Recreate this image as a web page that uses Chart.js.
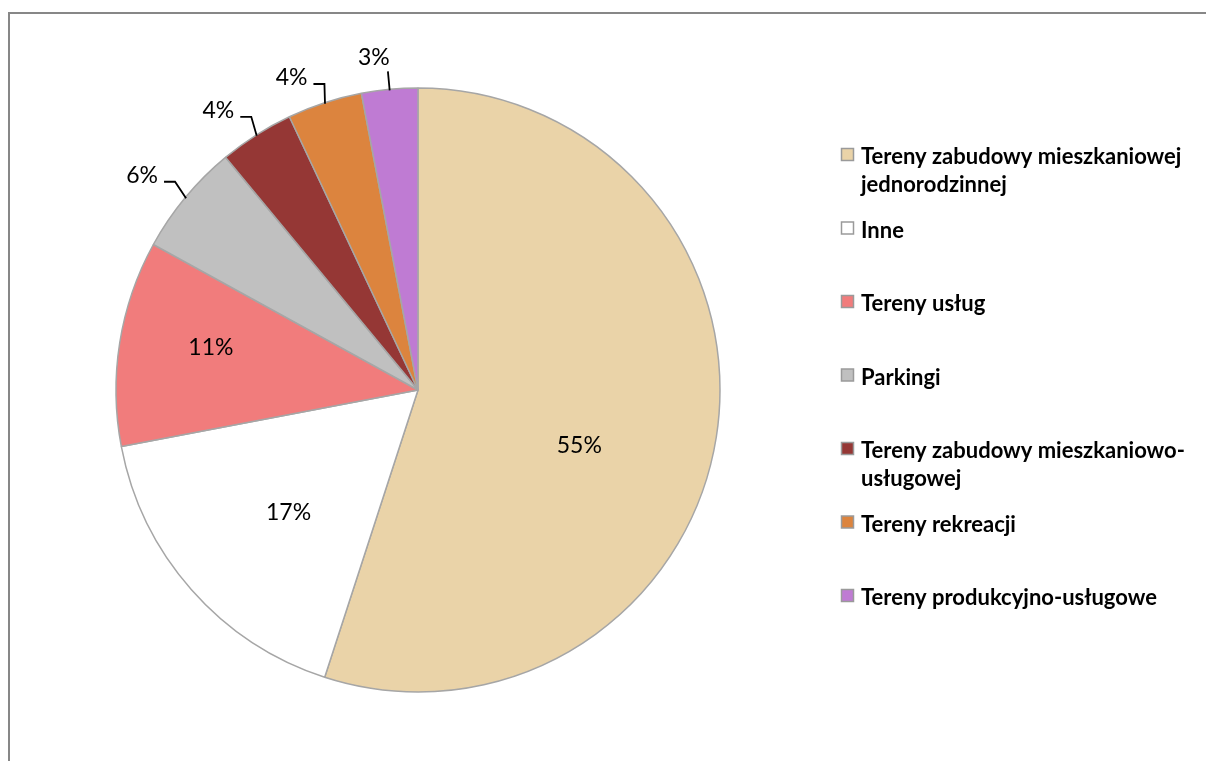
<!DOCTYPE html>
<html>
<head>
<meta charset="utf-8">
<script src="https://cdn.jsdelivr.net/npm/chart.js@4.4.1/dist/chart.umd.min.js"></script>
<style>
  body { margin: 0; background: #fff; }
  #wrap { position: relative; width: 1206px; height: 761px; }
</style>
</head>
<body>
<div id="wrap"><canvas id="pieChart" width="1206" height="761"></canvas></div>
<script>
const categories = [
  'Tereny zabudowy mieszkaniowej jednorodzinnej',
  'Inne',
  'Tereny usług',
  'Parkingi',
  'Tereny zabudowy mieszkaniowo-usługowej',
  'Tereny rekreacji',
  'Tereny produkcyjno-usługowe'
];
const shares = [55, 17, 11, 6, 4, 4, 3];
const colors = ['#ead3a8', '#ffffff', '#f17c7c', '#c0c0c0', '#953735', '#dc843e', '#bf7bd3'];

// slices labelled inside: [angle shift in degrees, fraction of radius]
// everything else gets a leader line outside the pie
const insideLabels = { 0: [10, 0.565], 1: [-2, 0.59], 2: [2.5, 0.70] };

const LABEL_FONT = '23px Lato';
const LEGEND_FONT = 'bold 22px Lato';
const DEG = Math.PI / 180;

function polar(arc, angle, r) {
  return { x: arc.x + Math.cos(angle) * r, y: arc.y + Math.sin(angle) * r };
}

// breaks a legend entry on spaces and after hyphens
function wrapText(c, text, maxWidth) {
  const parts = [];
  text.split(' ').forEach((word, w) => {
    word.split(/(?<=-)/).forEach((piece, p) => parts.push({ piece, space: w > 0 && p === 0 }));
  });
  const lines = [];
  let line = '';
  parts.forEach(({ piece, space }) => {
    const next = line + (line && space ? ' ' : '') + piece;
    if (line && c.measureText(next).width > maxWidth) {
      lines.push(line);
      line = piece;
    } else {
      line = next;
    }
  });
  lines.push(line);
  return lines;
}

const framePlugin = {
  id: 'frame',
  beforeDraw(chart) {
    const c = chart.ctx;
    c.save();
    c.strokeStyle = '#878787';
    c.lineWidth = 2;
    c.strokeRect(9, 13, 1300, 900);
    c.restore();
  }
};

const pctLabels = {
  id: 'pctLabels',
  afterDatasetsDraw(chart) {
    const c = chart.ctx;
    const arcs = chart.getDatasetMeta(0).data;
    c.save();
    c.font = LABEL_FONT;
    c.fillStyle = '#000';
    c.strokeStyle = '#000';
    c.lineWidth = 1.8;
    arcs.forEach((arc, i) => {
      const text = shares[i] + '%';
      const mid = (arc.startAngle + arc.endAngle) / 2;
      const r = arc.outerRadius;

      if (insideLabels[i]) {
        const [shift, f] = insideLabels[i];
        const p = polar(arc, mid + shift * DEG, r * f);
        c.textAlign = 'center';
        c.textBaseline = 'middle';
        c.fillText(text, p.x, p.y);
        return;
      }

      const edge = polar(arc, mid, r - 1);
      const nearTop = Math.abs(1.5 * Math.PI - mid) < 0.15;
      const elbow = polar(arc, mid + (nearTop ? 0 : DEG), r + 18);
      c.beginPath();
      c.moveTo(edge.x, edge.y);
      c.lineTo(elbow.x, elbow.y);
      c.textBaseline = 'alphabetic';
      if (nearTop) {
        c.stroke();
        c.textAlign = 'center';
        c.fillText(text, elbow.x - 14, elbow.y - 6);
      } else {
        c.lineTo(elbow.x - 11, elbow.y);
        c.stroke();
        c.textAlign = 'right';
        c.fillText(text, elbow.x - 17, elbow.y + 1);
      }
    });
    c.restore();
  }
};

const sideLegend = {
  id: 'sideLegend',
  afterDraw(chart) {
    const c = chart.ctx;
    c.save();
    c.font = LEGEND_FONT;
    c.textAlign = 'left';
    c.textBaseline = 'alphabetic';
    chart.data.labels.forEach((label, i) => {
      const y = 164 + i * 73.5;
      c.fillStyle = colors[i];
      c.fillRect(841.5, y - 15.5, 12, 12);
      c.strokeStyle = '#9a9a9a';
      c.lineWidth = 1.5;
      c.strokeRect(841.5, y - 15.5, 12, 12);
      c.fillStyle = '#000';
      wrapText(c, label, 340).forEach((line, k) => c.fillText(line, 861, y + k * 27.5));
    });
    c.restore();
  }
};

new Chart(document.getElementById('pieChart'), {
  type: 'pie',
  data: {
    labels: categories,
    datasets: [{
      data: shares,
      backgroundColor: colors,
      borderColor: '#a6a6a6',
      borderWidth: 1.5,
      hoverOffset: 0,
      radius: 302
    }]
  },
  options: {
    responsive: false,
    animation: false,
    devicePixelRatio: 1,
    events: [],
    layout: { padding: { left: 116, right: 486, top: 88, bottom: 69 } },
    plugins: {
      legend: { display: false },
      tooltip: { enabled: false }
    }
  },
  plugins: [framePlugin, pctLabels, sideLegend]
});
</script>
</body>
</html>
